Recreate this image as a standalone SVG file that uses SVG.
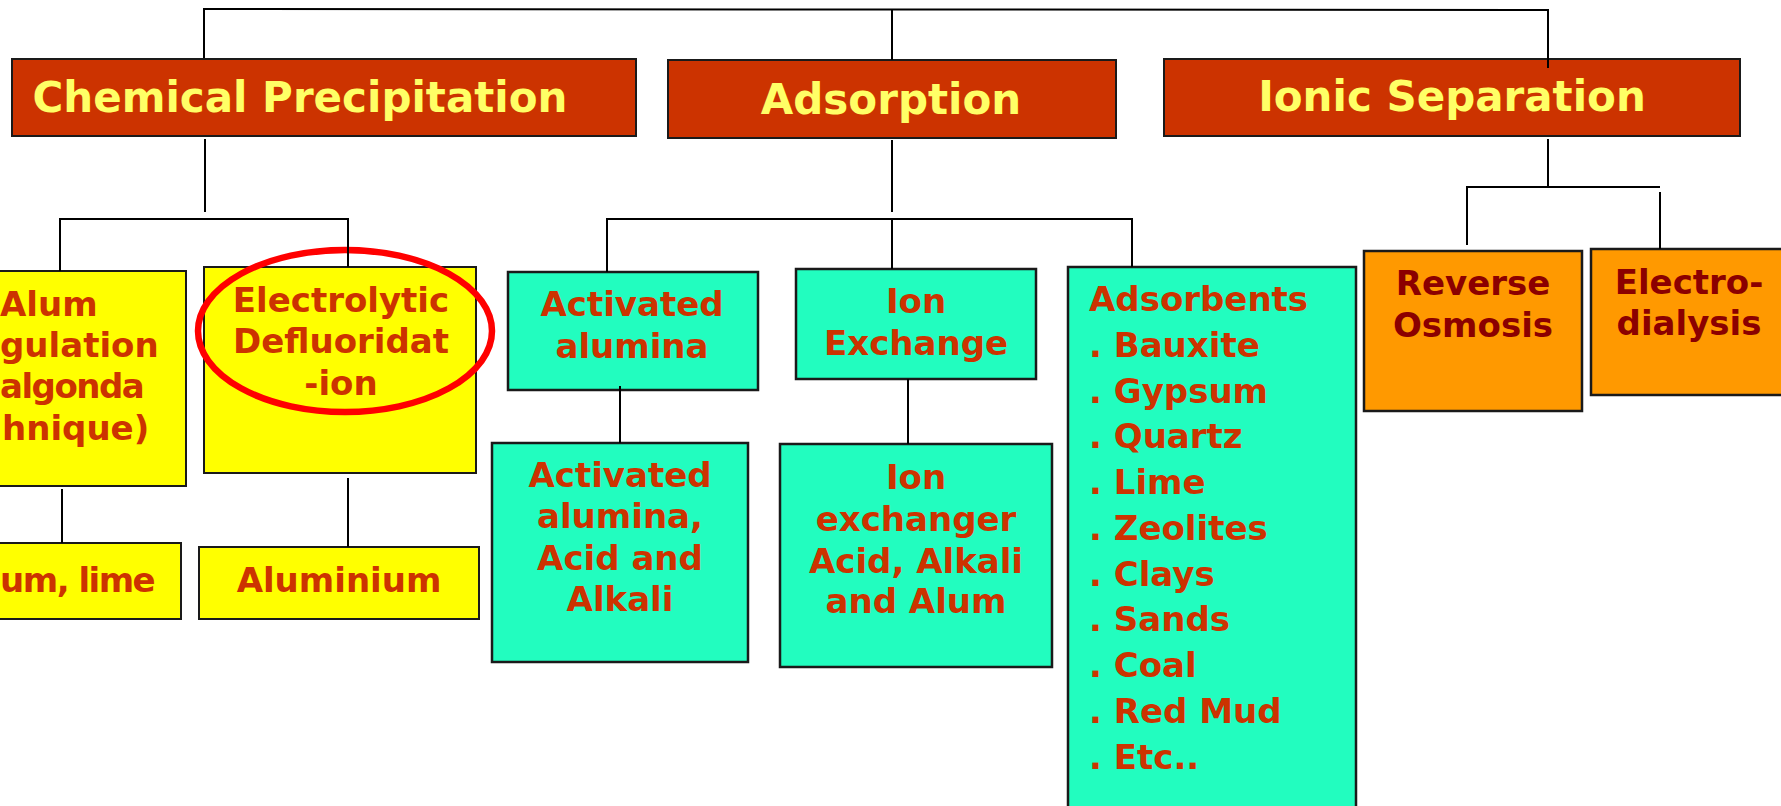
<svg xmlns="http://www.w3.org/2000/svg" width="1781" height="806" viewBox="0 0 1781 806">
<style>
.t{font-family:"DejaVu Sans","Liberation Sans",sans-serif;font-weight:bold;text-anchor:middle}
.s{text-anchor:start}
.h{fill:#CC3300;stroke:#1a1a1a;stroke-width:2}
.ht{font-size:42px;fill:#FFFF66}
.y{fill:#FFFF00;stroke:#1a1a1a;stroke-width:2}
.g{fill:#22FDBF;stroke:#1a1a1a;stroke-width:2.5}
.o{fill:#FF9900;stroke:#1a1a1a;stroke-width:2.5}
.bt{font-size:34px;fill:#CC3300}
.ot{font-size:34px;fill:#8B0000}
.c line,.c polyline{stroke:#000;stroke-width:2;fill:none}
</style>
<rect width="1781" height="806" fill="#fff"/>
<g id="chemical-precipitation">
<rect class="h" x="12" y="59" width="624" height="77"/>
<text class="t ht" x="300" y="112">Chemical Precipitation</text>
</g>
<g id="adsorption">
<rect class="h" x="668" y="60" width="448" height="78"/>
<text class="t ht" x="891" y="114">Adsorption</text>
</g>
<g id="ionic-separation">
<rect class="h" x="1164" y="59" width="576" height="77"/>
<text class="t ht" x="1452" y="111">Ionic Separation</text>
</g>
<g id="alum-coagulation">
<rect class="y" x="-102" y="271" width="288" height="215"/>
<text class="t bt s" x="0" y="316">Alum</text>
<text class="t bt s" x="0" y="357">gulation</text>
<text class="t bt s" x="0" y="398" letter-spacing="-1.5">algonda</text>
<text class="t bt s" x="2" y="440">hnique)</text>
</g>
<g id="alum-lime">
<rect class="y" x="-83" y="543" width="264" height="76"/>
<text class="t bt s" x="0" y="592" letter-spacing="-1.5">um, lime</text>
</g>
<g id="electrolytic">
<rect class="y" x="204" y="267" width="272" height="206"/>
<text class="t bt" x="341" y="312">Electrolytic</text>
<text class="t bt" x="341" y="353">Defluoridat</text>
<text class="t bt" x="341" y="395">-ion</text>
<ellipse cx="345" cy="331" rx="147" ry="81" fill="none" stroke="#FF0000" stroke-width="6.5"/>
</g>
<g id="aluminium">
<rect class="y" x="199" y="547" width="280" height="72"/>
<text class="t bt" x="339" y="592">Aluminium</text>
</g>
<g id="activated-alumina">
<rect class="g" x="508" y="272" width="250" height="118"/>
<text class="t bt" x="632" y="316">Activated</text>
<text class="t bt" x="632" y="358">alumina</text>
</g>
<g id="activated-alumina-regen">
<rect class="g" x="492" y="443" width="256" height="219"/>
<text class="t bt" x="620" y="487">Activated</text>
<text class="t bt" x="620" y="528">alumina,</text>
<text class="t bt" x="620" y="570">Acid and</text>
<text class="t bt" x="620" y="611">Alkali</text>
</g>
<g id="ion-exchange">
<rect class="g" x="796" y="269" width="240" height="110"/>
<text class="t bt" x="916" y="313">Ion</text>
<text class="t bt" x="916" y="355">Exchange</text>
</g>
<g id="ion-exchanger">
<rect class="g" x="780" y="444" width="272" height="223"/>
<text class="t bt" x="916" y="489">Ion</text>
<text class="t bt" x="916" y="531">exchanger</text>
<text class="t bt" x="916" y="573">Acid, Alkali</text>
<text class="t bt" x="916" y="613">and Alum</text>
</g>
<g id="adsorbents">
<rect class="g" x="1068" y="267" width="288" height="560"/>
<g class="t bt s">
<text x="1089" y="311">Adsorbents</text>
<text x="1089" y="357">. Bauxite</text>
<text x="1089" y="403">. Gypsum</text>
<text x="1089" y="448">. Quartz</text>
<text x="1089" y="494">. Lime</text>
<text x="1089" y="540">. Zeolites</text>
<text x="1089" y="586">. Clays</text>
<text x="1089" y="631">. Sands</text>
<text x="1089" y="677">. Coal</text>
<text x="1089" y="723">. Red Mud</text>
<text x="1089" y="769">. Etc..</text>
</g>
</g>
<g id="reverse-osmosis">
<rect class="o" x="1364" y="251" width="218" height="160"/>
<text class="t ot" x="1473" y="295">Reverse</text>
<text class="t ot" x="1473" y="337">Osmosis</text>
</g>
<g id="electrodialysis">
<rect class="o" x="1591" y="249" width="220" height="146"/>
<text class="t ot" x="1689" y="294">Electro-</text>
<text class="t ot" x="1689" y="335">dialysis</text>
</g>
<g class="c" id="connectors">
<polyline points="204,58 204,9 1548,10 1548,68"/>
<line x1="892" y1="9" x2="892" y2="60"/>
<line x1="205" y1="139" x2="205" y2="212"/>
<polyline points="60,271 60,219 348,219 348,267"/>
<line x1="892" y1="140" x2="892" y2="212"/>
<polyline points="607,272 607,219 1132,219 1132,267"/>
<line x1="892" y1="219" x2="892" y2="269"/>
<line x1="1548" y1="139" x2="1548" y2="187"/>
<polyline points="1467,245 1467,187 1660,187"/>
<line x1="1660" y1="192" x2="1660" y2="249"/>
<line x1="62" y1="489" x2="62" y2="543"/>
<line x1="348" y1="478" x2="348" y2="547"/>
<line x1="620" y1="386" x2="620" y2="443"/>
<line x1="908" y1="379" x2="908" y2="444"/>
</g>
</svg>
